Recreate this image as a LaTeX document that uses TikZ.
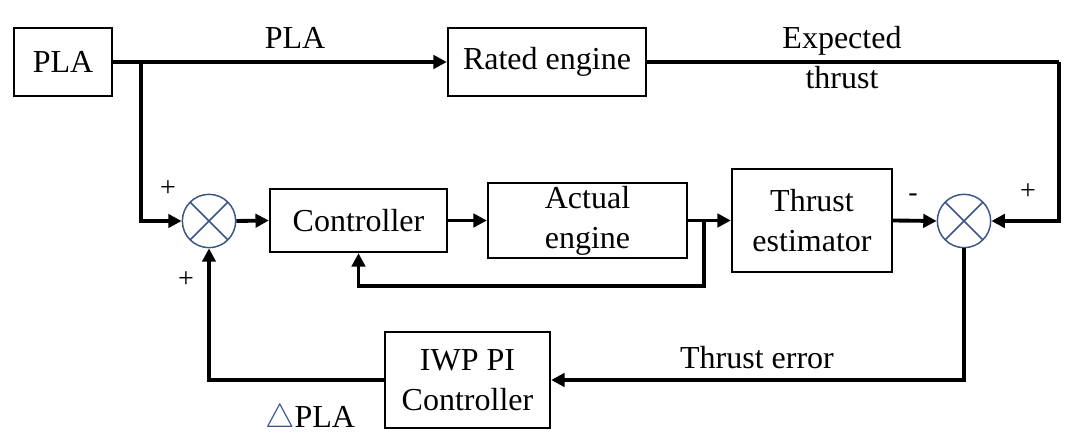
\documentclass[tikz,border=0pt]{standalone}
\usepackage{fontspec}
\setmainfont{Liberation Serif}
\usetikzlibrary{arrows.meta,calc}
\definecolor{sumblue}{HTML}{3A5688}
\begin{document}
\begin{tikzpicture}[x=0.75pt,y=-0.75pt,
  blk/.style={draw,line width=1.8pt,rectangle,inner sep=0pt,align=center,font=\fontsize{24}{30}\selectfont},
  sumnode/.style={draw=sumblue,line width=1.1pt,circle,inner sep=0pt,minimum size=40pt,
    path picture={\draw[sumblue,line width=1.1pt] (path picture bounding box.north west)--(path picture bounding box.south east)
      (path picture bounding box.north east)--(path picture bounding box.south west);}},
  conn/.style={line width=2.9pt},
  arr/.style={conn,-{Triangle[length=10pt,width=10pt]}},
  lbl/.style={font=\fontsize{24}{30}\selectfont,inner sep=0pt,align=center},
  sgn/.style={font=\fontsize{21}{22}\selectfont,inner sep=0pt}]
\useasboundingbox (0,0) rectangle (1080,434);
% blocks
\node[blk,minimum width=73.5pt,minimum height=51pt] (pla) at (63,62) {PLA};
\node[blk,minimum width=148.5pt,minimum height=51pt] (rated) at (547,62) {Rated engine};
\node[sumnode] (sum1) at (209,221) {};
\node[blk,minimum width=132.75pt,minimum height=47.25pt] (ctrl) at (358.5,220.5) {Controller};
\node[blk,minimum width=149.25pt,minimum height=56.25pt] (actual) at (587.5,220.5) {Actual\\engine};
\node[blk,minimum width=120pt,minimum height=77.25pt] (est) at (812,220.5) {Thrust\\estimator};
\node[sumnode] (sum2) at (964,221) {};
\node[blk,minimum width=123.75pt,minimum height=72pt] (iwp) at (467.5,380) {IWP PI\\Controller};
% junctions
\coordinate (b1) at (141,62);
\coordinate (c1) at (1059,62);
\coordinate (b2) at (704,221);
\coordinate (b2d) at (704,286);
% connectors
\draw[arr] (pla.east) -- (rated.west);
\draw[arr] (b1) |- (sum1.west);
\draw[conn] (rated.east) -- (c1);
\draw[arr] (c1) |- (sum2.east);
\draw[arr] (sum1.east) -- (ctrl.west);
\draw[arr] (ctrl.east) -- (actual.west);
\draw[arr] (actual.east) -- (est.west);
\draw[arr] (b2) -- (b2d) -| (ctrl.south);
\draw[arr] (est.east) -- (sum2.west);
\draw[arr] (sum2.south) |- (iwp.east);
\draw[arr] (iwp.west) -| (sum1.south);
% labels
\node[lbl] (lpla) at (295,38) {PLA};
\node[lbl] (lexp) at (842,58) {Expected\\thrust};
\node[lbl] (lerr) at (757,358) {Thrust error};
\node[lbl] (ldpla) at (310,419) {\textcolor{sumblue}{$\triangle$}PLA};
\node[sgn] (s1) at (168,189) {+};
\node[sgn] (s2) at (186,280) {+};
\node[sgn] (s3) at (913,198) {-};
\node[sgn] (s4) at (1028,192) {+};
\end{tikzpicture}
\end{document}
